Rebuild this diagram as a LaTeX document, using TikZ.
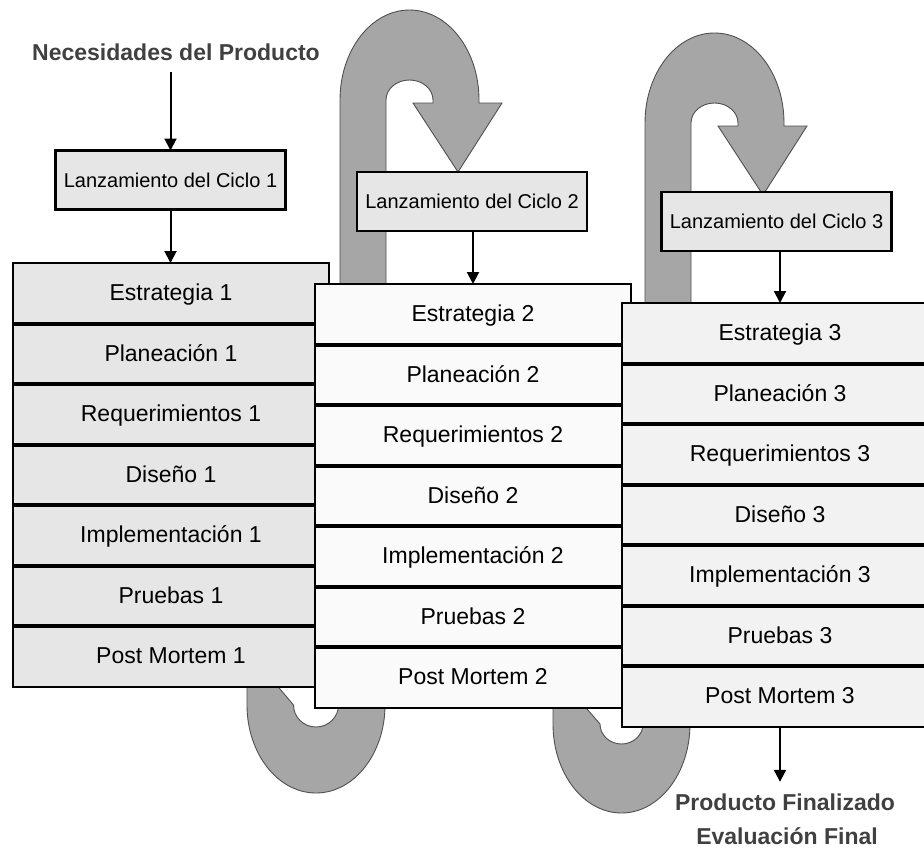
\documentclass[tikz,border=0pt]{standalone}
\usepackage{fontspec}
\setmainfont{Liberation Sans}
\usetikzlibrary{positioning,arrows.meta}
\definecolor{gris}{HTML}{A6A6A6}
\definecolor{grisclaro}{HTML}{E6E6E6}
\definecolor{casiblanco}{HTML}{FAFAFA}
\definecolor{blancogris}{HTML}{F2F2F2}
\definecolor{texto}{HTML}{404040}
\definecolor{borde}{HTML}{505050}
\tikzset{
  fase/.style={draw, line width=2pt, fill=casiblanco, minimum width=316pt, minimum height=60.5pt,
    inner sep=0pt, outer sep=0pt, font=\fontsize{23}{27}\selectfont, text height=17pt, text depth=2pt},
  fase1/.style={fase, fill=grisclaro},
  fase3/.style={fase, fill=blancogris},
  lanz/.style={draw, line width=2.4pt, fill=grisclaro, minimum width=230pt, minimum height=59pt,
    inner sep=0pt, outer sep=0pt, font=\fontsize{20}{24}\selectfont},
  rotulo/.style={text=texto, font=\bfseries\fontsize{23}{27}\selectfont, inner xsep=0pt, inner ysep=12pt,
    text height=16pt, text depth=0pt},
  flecha/.style={line width=2pt, -{Triangle[width=12pt,length=12pt]}},
  separa/.style={line width=4pt},
  vuelta/.style={fill=gris, draw=borde, line width=0.9pt}
}
\begin{document}
\begin{tikzpicture}[x=1pt,y=1pt]
\useasboundingbox (0,0) rectangle (924,-849);
% vueltas entre ciclos
\draw[vuelta] (340,-300) -- (340,-100) arc[start angle=180, end angle=0, x radius=69.5, y radius=90] -- (479,-103) -- (502,-103) -- (458,-172) -- (413,-103) -- (433,-103) -- (433,-100) arc[start angle=0, end angle=180, x radius=23.5, y radius=20] -- (386,-300) -- cycle;
\draw[vuelta] (645,-320) -- (645,-123) arc[start angle=180, end angle=0, x radius=69.5, y radius=90] -- (784,-126) -- (807,-126) -- (763,-195) -- (718,-126) -- (738,-126) -- (738,-123) arc[start angle=0, end angle=180, x radius=23.5, y radius=20] -- (691,-320) -- cycle;
\draw[vuelta] (247,-650) -- (247,-705) arc[start angle=180, end angle=360, x radius=69, y radius=88] -- (385,-650) -- (338.5,-650) -- (338.5,-705) arc[start angle=360, end angle=180, x radius=22.5, y radius=22] -- cycle;
\draw[vuelta] (553,-670) -- (553,-724) arc[start angle=180, end angle=360, x radius=68.5, y radius=89] -- (690,-670) -- (643,-670) -- (643,-724) arc[start angle=360, end angle=180, x radius=21.5, y radius=20] -- cycle;
% ciclo 1
\node[rotulo] (necesidades) at (176,-52) {Necesidades del Producto};
\node[lanz] (lanz1) at (170.5,-180) {Lanzamiento del Ciclo 1};
\node[fase1] (est1) at (171,-293.25) {Estrategia 1};
\node[fase1, below=0pt of est1] (plan1) {Planeación 1};
\node[fase1, below=0pt of plan1] (req1) {Requerimientos 1};
\node[fase1, below=0pt of req1] (dis1) {Diseño 1};
\node[fase1, below=0pt of dis1] (impl1) {Implementación 1};
\node[fase1, below=0pt of impl1] (prue1) {Pruebas 1};
\node[fase1, below=0pt of prue1] (post1) {Post Mortem 1};
\foreach \n in {est1,plan1,req1,dis1,impl1,prue1}
  \draw[separa] (\n.south west) -- (\n.south east);
\draw[flecha] (necesidades.south -| lanz1.north) -- (lanz1.north);
\draw[flecha] (lanz1.south) -- (lanz1.south |- est1.north);
% ciclo 2
\node[lanz] (lanz2) at (472,-201.5) {Lanzamiento del Ciclo 2};
\node[fase] (est2) at (473,-314.25) {Estrategia 2};
\node[fase, below=0pt of est2] (plan2) {Planeación 2};
\node[fase, below=0pt of plan2] (req2) {Requerimientos 2};
\node[fase, below=0pt of req2] (dis2) {Diseño 2};
\node[fase, below=0pt of dis2] (impl2) {Implementación 2};
\node[fase, below=0pt of impl2] (prue2) {Pruebas 2};
\node[fase, below=0pt of prue2] (post2) {Post Mortem 2};
\foreach \n in {est2,plan2,req2,dis2,impl2,prue2}
  \draw[separa] (\n.south west) -- (\n.south east);
\draw[flecha] (lanz2.south -| est2.north) -- (est2.north);
% ciclo 3
\node[lanz] (lanz3) at (776.5,-221.5) {Lanzamiento del Ciclo 3};
\node[fase3] (est3) at (780,-333.25) {Estrategia 3};
\node[fase3, below=0pt of est3] (plan3) {Planeación 3};
\node[fase3, below=0pt of plan3] (req3) {Requerimientos 3};
\node[fase3, below=0pt of req3] (dis3) {Diseño 3};
\node[fase3, below=0pt of dis3] (impl3) {Implementación 3};
\node[fase3, below=0pt of impl3] (prue3) {Pruebas 3};
\node[fase3, below=0pt of prue3] (post3) {Post Mortem 3};
\foreach \n in {est3,plan3,req3,dis3,impl3,prue3}
  \draw[separa] (\n.south west) -- (\n.south east);
\draw[flecha] (lanz3.south -| est3.north) -- (est3.north);
% salida
\node[rotulo] (producto) at (785,-802) {Producto Finalizado};
\node[rotulo, inner ysep=1pt] (evaluacion) at (787,-836) {Evaluación Final};
\draw[flecha] (post3.south) -- (post3.south |- producto.north);
\end{tikzpicture}
\end{document}
